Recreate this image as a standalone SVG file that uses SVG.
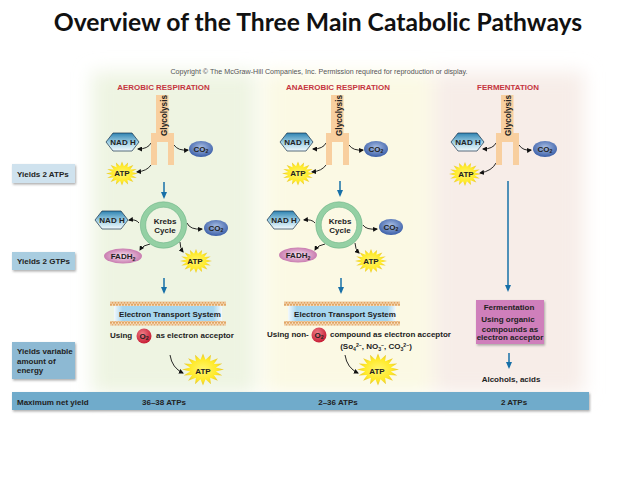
<svg xmlns="http://www.w3.org/2000/svg" width="638" height="479" viewBox="0 0 638 479">
<style>
text{font-family:"Liberation Sans",Arial,sans-serif;font-weight:bold;font-size:8px;fill:#222}
.t{font-family:Lato,"Liberation Sans",sans-serif;font-size:24.700px;fill:#111}
.c{text-anchor:middle}
.hd{fill:#c5353f;font-size:7.950px;text-anchor:middle}
.gl{font-size:8.200px}
.sub{font-size:5.200px}
.lab{filter:url(#sh)}
.bar{fill:#6fabcb;filter:url(#sh)}
.fork{fill:#f8cf9f}
.hex{fill:url(#hexg);stroke:#15304a;stroke-width:.7}
.co{fill:url(#cog)}
.fad{fill:url(#fadg)}
.star{fill:url(#starg)}
.ring{fill:none;stroke:#94d0a4;stroke-width:5.500}
.ring2{fill:none;stroke:#62ad7e;stroke-width:.5}
.cv{fill:none;stroke:#111;stroke-width:.9;marker-end:url(#ah)}
.bl{stroke:#1770a8;stroke-width:1.500;fill:none;marker-end:url(#bh)}
.lip{fill:url(#lipid)}
.ets{fill:url(#etsg)}
.o2{fill:url(#o2g)}
</style>
<defs>
<filter id="sh" x="-10%" y="-20%" width="125%" height="150%"><feDropShadow dx="1" dy="1.500" stdDeviation="1" flood-color="#777" flood-opacity=".6"/></filter>
<filter id="soft" x="-15%" y="-15%" width="130%" height="130%"><feGaussianBlur stdDeviation="9"/></filter>
<linearGradient id="hexg" x1="0" y1="0" x2="0" y2="1"><stop offset="0" stop-color="#2f83b2"/><stop offset=".55" stop-color="#a5d3e6"/><stop offset="1" stop-color="#f2f9fc"/></linearGradient>
<radialGradient id="cog" cx=".5" cy=".4" r=".6"><stop offset="0" stop-color="#a9bfe4"/><stop offset="1" stop-color="#3a5ea8"/></radialGradient>
<radialGradient id="fadg"><stop offset="0" stop-color="#f8e4f0"/><stop offset="1" stop-color="#c97cb0"/></radialGradient>
<radialGradient id="starg"><stop offset="0" stop-color="#fff56e"/><stop offset=".65" stop-color="#ffea2a"/><stop offset="1" stop-color="#e6c42a"/></radialGradient>
<radialGradient id="o2g" cx=".4" cy=".35" r=".7"><stop offset="0" stop-color="#ee7d86"/><stop offset="1" stop-color="#c4162f"/></radialGradient>
<linearGradient id="etsg" x1="0" y1="0" x2="1" y2="0"><stop offset="0" stop-color="#f4f9fc"/><stop offset=".08" stop-color="#a6d6ef"/><stop offset=".92" stop-color="#a6d6ef"/><stop offset="1" stop-color="#f4f9fc"/></linearGradient>
<pattern id="lipid" width="3" height="4.500" patternUnits="userSpaceOnUse"><rect width="3" height="4.500" fill="#f6dcbc"/><circle cx="1.500" cy="1.200" r="1" fill="#dd9a52"/><circle cx="0" cy="3.300" r="1" fill="#dd9a52"/><circle cx="3" cy="3.300" r="1" fill="#dd9a52"/></pattern>
<marker id="ah" markerWidth="5" markerHeight="5" refX="4" refY="2.500" orient="auto" markerUnits="userSpaceOnUse"><path d="M0 0L5 2.500L0 5z" fill="#111"/></marker>
<marker id="bh" markerWidth="8" markerHeight="7" refX="5" refY="3" orient="auto" markerUnits="userSpaceOnUse"><path d="M0 0L7 3L0 6z" fill="#1770a8"/></marker>
<polygon id="st" points="100,0 61,12 92,38 52,34 71,71 34,52 38,92 12,61 0,100 -12,61 -38,92 -34,52 -71,71 -52,34 -92,38 -61,12 -100,0 -61,-12 -92,-38 -52,-34 -71,-71 -34,-52 -38,-92 -12,-61 0,-100 12,-61 38,-92 34,-52 71,-71 52,-34 92,-38 61,-12"/>
<path id="frk" d="M156 95h12.500v38h5.500v32h-6v-23h-11v23h-6v-32h5z"/>
<polygon id="hx" points="0,9 7,0 26,0 33,9 26,18 7,18"/>
</defs>

<g id="panels" filter="url(#soft)">
<rect x="92" y="72" width="164" height="322" fill="#eef4e2"/>
<rect x="264" y="72" width="168" height="322" fill="#fbf9e4"/>
<rect x="434" y="72" width="150" height="322" fill="#f7ede8"/>
</g>

<text class="t c" x="318" y="31">Overview of the Three Main Catabolic Pathways</text>
<text x="319" y="73.500" class="c" style="font-weight:normal;font-size:7.140px;fill:#555">Copyright © The McGraw-Hill Companies, Inc. Permission required for reproduction or display.</text>
<text class="hd" x="163.500" y="90">AEROBIC RESPIRATION</text>
<text class="hd" x="338" y="90">ANAEROBIC RESPIRATION</text>
<text class="hd" x="508" y="90">FERMENTATION</text>

<g id="yield-labels">
<g id="yields-atp"><rect class="lab" fill="#cfe2ee" x="12" y="164" width="63" height="19"/><text x="17" y="176.500">Yields 2 ATPs</text></g>
<g id="yields-gtp"><rect class="lab" fill="#a9cde0" x="12" y="252" width="63" height="18"/><text x="17" y="264">Yields 2 GTPs</text></g>
<g id="yields-var"><rect class="lab" fill="#8db9d3" x="12" y="342" width="63" height="37"/><text x="17" y="354">Yields variable</text><text x="17" y="363.500">amount of</text><text x="17" y="373">energy</text></g>
</g>

<g id="yield-bar"><rect class="bar" x="12" y="392" width="577" height="18"/>
<text x="17" y="405">Maximum net yield</text>
<text class="c" x="164" y="405">36–38 ATPs</text>
<text class="c" x="338" y="405">2–36 ATPs</text>
<text class="c" x="514" y="405">2 ATPs</text></g>

<g id="connectors">
<path class="cv" d="M151 143Q148 149 138 149"/><path class="cv" d="M174 145Q178 151 188 150"/><path class="cv" d="M151 165Q147 171 137 172"/>
<path class="cv" d="M139 223Q136 219 129 220"/><path class="cv" d="M187 223Q190 230 202 229"/><path class="cv" d="M150 244Q143 245 140 250"/><path class="cv" d="M180 242Q180 248 183 252"/>
<path class="cv" d="M170 355Q172 368 183 373"/>
<path class="bl" d="M164 182V197"/><path class="bl" d="M164 278V292"/>
<path class="cv" d="M326 143Q323 149 313 149"/><path class="cv" d="M349 145Q353 151 363 150"/><path class="cv" d="M326 165Q322 171 312 172"/>
<path class="cv" d="M315 223Q312 219 304 220"/><path class="cv" d="M363 225Q366 230 377 229"/><path class="cv" d="M325 244Q318 245 315 250"/><path class="cv" d="M355 243Q355 249 359 253"/>
<path class="cv" d="M345 355Q347 368 358 373"/>
<path class="bl" d="M340 181V195"/><path class="bl" d="M341 278V292"/>
<path class="cv" d="M496 143Q493 149 483 149"/><path class="cv" d="M519 145Q523 151 531 150"/><path class="cv" d="M496 163Q492 171 480 173"/>
<path class="bl" d="M508 181V290"/><path class="bl" d="M509 353V367"/>
</g>

<g id="aerobic">
<g id="a-glycolysis"><use href="#frk" class="fork"/><text class="gl" transform="translate(167 136) rotate(-90)">Glycolysis</text></g>
<g id="a-nadh"><use href="#hx" class="hex" x="106" y="133"/><text class="c" x="123" y="145">NAD H</text></g>
<g id="a-co2"><ellipse class="co" cx="201" cy="149" rx="12" ry="8"/><text class="c" x="201" y="151.500">CO<tspan class="sub" dy="1.500">2</tspan></text></g>
<g id="a-atp"><use href="#st" class="star" transform="translate(122 173.500) scale(.16 .12)"/><text class="c" x="122" y="176">ATP</text></g>
<g id="a-krebs"><circle class="ring" cx="163.500" cy="225" r="20.500"/><circle class="ring2" cx="163.500" cy="225" r="23.200"/><circle class="ring2" cx="163.500" cy="225" r="17.800"/><text class="c" x="165" y="224">Krebs</text><text class="c" x="165" y="233">Cycle</text></g>
<g id="a-nadh2"><use href="#hx" class="hex" x="95" y="211"/><text class="c" x="112" y="223">NAD H</text></g>
<g id="a-co22"><ellipse class="co" cx="216" cy="228" rx="12" ry="8"/><text class="c" x="216" y="230.500">CO<tspan class="sub" dy="1.500">2</tspan></text></g>
<g id="a-fadh"><ellipse class="fad" cx="123" cy="256" rx="19" ry="7.500"/><text class="c" x="123" y="259">FADH<tspan class="sub" dy="1.500">2</tspan></text></g>
<g id="a-atp2"><use href="#st" class="star" transform="translate(196 261) scale(.16 .12)"/><text class="c" x="195" y="263.500">ATP</text></g>
<g id="a-ets"><rect class="lip" x="110" y="301.500" width="116" height="4.500"/><rect class="ets" x="114" y="306" width="108" height="16"/><rect class="lip" x="110" y="321" width="116" height="4.500"/><text class="c" x="170" y="317">Electron Transport System</text></g>
<g id="a-using"><text x="110" y="338">Using</text><circle class="o2" cx="144" cy="336" r="7.500"/><text class="c" x="144" y="338.500">O<tspan class="sub" dy="1.500">2</tspan></text><text x="156" y="338">as electron acceptor</text></g>
<g id="a-atp3"><use href="#st" class="star" transform="translate(203 369.500) scale(.21 .16)"/><text class="c" x="203" y="374">ATP</text></g>
</g>

<g id="anaerobic">
<g id="b-glycolysis"><use href="#frk" class="fork" x="175"/><text class="gl" transform="translate(342 136) rotate(-90)">Glycolysis</text></g>
<g id="b-nadh"><use href="#hx" class="hex" x="280" y="133"/><text class="c" x="297" y="145">NAD H</text></g>
<g id="b-co2"><ellipse class="co" cx="376" cy="149" rx="12" ry="8"/><text class="c" x="376" y="151.500">CO<tspan class="sub" dy="1.500">2</tspan></text></g>
<g id="b-atp"><use href="#st" class="star" transform="translate(298 173.500) scale(.16 .12)"/><text class="c" x="298" y="176">ATP</text></g>
<g id="b-krebs"><circle class="ring" cx="339" cy="225" r="20.500"/><circle class="ring2" cx="339" cy="225" r="23.200"/><circle class="ring2" cx="339" cy="225" r="17.800"/><text class="c" x="340" y="224">Krebs</text><text class="c" x="340" y="233">Cycle</text></g>
<g id="b-nadh2"><use href="#hx" class="hex" x="267" y="211"/><text class="c" x="284" y="223">NAD H</text></g>
<g id="b-co22"><ellipse class="co" cx="391" cy="227" rx="12" ry="8"/><text class="c" x="391" y="229.500">CO<tspan class="sub" dy="1.500">2</tspan></text></g>
<g id="b-fadh"><ellipse class="fad" cx="298" cy="255" rx="19" ry="7.500"/><text class="c" x="298" y="258">FADH<tspan class="sub" dy="1.500">2</tspan></text></g>
<g id="b-atp2"><use href="#st" class="star" transform="translate(371 261) scale(.16 .12)"/><text class="c" x="371" y="263.500">ATP</text></g>
<g id="b-ets"><rect class="lip" x="284" y="301.500" width="116" height="4.500"/><rect class="ets" x="288" y="306" width="108" height="16"/><rect class="lip" x="284" y="321" width="116" height="4.500"/><text class="c" x="345" y="317">Electron Transport System</text></g>
<g id="b-using"><text x="267" y="337">Using non-</text><circle class="o2" cx="319" cy="335" r="7.500"/><text class="c" x="319" y="337.500">O<tspan class="sub" dy="1.500">2</tspan></text><text x="330" y="337">compound as electron acceptor</text>
<text class="c" x="376" y="349">(So<tspan class="sub" dy="1.500">4</tspan><tspan class="sub" dy="-3.500">2–</tspan><tspan dy="2">, NO</tspan><tspan class="sub" dy="1.500">3</tspan><tspan class="sub" dy="-3.500">–</tspan><tspan dy="2">, CO</tspan><tspan class="sub" dy="1.500">3</tspan><tspan class="sub" dy="-3.500">2–</tspan><tspan dy="2">)</tspan></text></g>
<g id="b-atp3"><use href="#st" class="star" transform="translate(378 369.500) scale(.21 .16)"/><text class="c" x="377" y="374">ATP</text></g>
</g>

<g id="fermentation">
<g id="c-glycolysis"><use href="#frk" class="fork" x="345"/><text class="gl" transform="translate(511 136) rotate(-90)">Glycolysis</text></g>
<g id="c-nadh"><use href="#hx" class="hex" x="451" y="133"/><text class="c" x="468" y="145">NAD H</text></g>
<g id="c-co2"><ellipse class="co" cx="545" cy="149" rx="12" ry="8"/><text class="c" x="545" y="151.500">CO<tspan class="sub" dy="1.500">2</tspan></text></g>
<g id="c-atp"><use href="#st" class="star" transform="translate(465 174) scale(.16 .12)"/><text class="c" x="466" y="177">ATP</text></g>
<g id="c-box"><rect x="476" y="300" width="68" height="44" fill="#cf7fbb" filter="url(#sh)"/><text class="c" x="509" y="309.500">Fermentation</text><text class="c" x="508" y="321.500">Using organic</text><text class="c" x="510" y="331.500">compounds as</text><text class="c" x="510" y="340">electron acceptor</text></g>
<text class="c" x="511" y="382">Alcohols, acids</text>
</g>
</svg>
